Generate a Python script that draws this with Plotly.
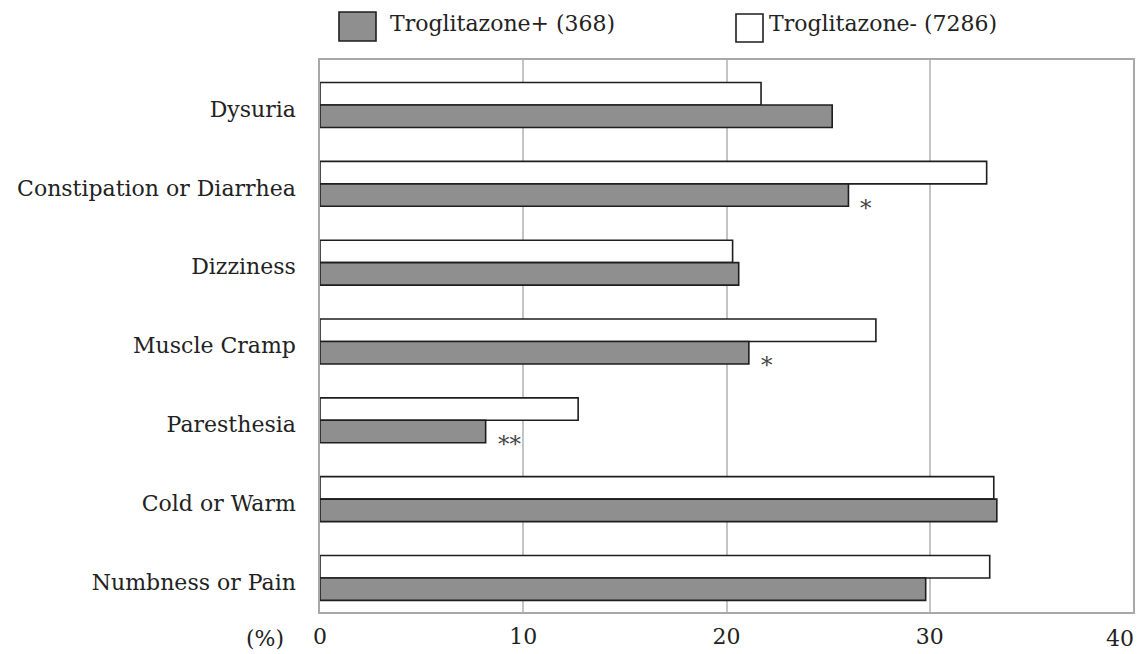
import plotly.graph_objects as go

categories = ["Dysuria", "Constipation or Diarrhea", "Dizziness", "Muscle Cramp",
              "Paresthesia", "Cold or Warm", "Numbness or Pain"]
trog_plus = [25.2, 26.0, 20.6, 21.1, 8.15, 33.3, 29.8]     # Troglitazone+ (368)
trog_minus = [21.7, 32.8, 20.3, 27.35, 12.7, 33.15, 32.95]  # Troglitazone- (7286)
significance = ["", "*", "", "*", "**", "", ""]
x_ticks = [0, 10, 20, 30, 40]
name_plus = "Troglitazone+ (368)"
name_minus = "Troglitazone- (7286)"

FONT = "DejaVu Serif"
W, H = 1138, 654
L, R, T, B = 320, 5, 60, 42

fig = go.Figure()
fig.add_trace(go.Bar(y=categories, x=trog_minus, orientation="h", name=name_minus,
                     marker=dict(color="white", line=dict(color="#1e1e1e", width=1.6))))
fig.add_trace(go.Bar(y=categories, x=trog_plus, orientation="h", name=name_plus,
                     marker=dict(color="#8f8f8f", line=dict(color="#1e1e1e", width=1.6))))

annotations = []
for i, (mark, v) in enumerate(zip(significance, trog_plus)):
    if mark:
        annotations.append(dict(x=v, y=i, xref="x", yref="y", text=mark, showarrow=False,
                                xanchor="left", yanchor="middle", xshift=10, yshift=-24,
                                font=dict(family=FONT, size=23, color="#444444")))

pw = W - L - R
ph = H - T - B
def px(x):
    return (x - L) / pw
def py(y):
    return (H - B - y) / ph

shapes = [
    dict(type="rect", xref="paper", yref="paper", x0=px(339), x1=px(376), y0=py(41), y1=py(12),
         fillcolor="#8f8f8f", line=dict(color="#1e1e1e", width=1.6)),
    dict(type="rect", xref="paper", yref="paper", x0=px(736), x1=px(763), y0=py(42), y1=py(14),
         fillcolor="white", line=dict(color="#1e1e1e", width=1.6)),
]
annotations += [
    dict(x=px(388), y=py(23), xref="paper", yref="paper", text=name_plus, showarrow=False,
         xanchor="left", yanchor="middle", font=dict(family=FONT, size=22, color="#222222")),
    dict(x=px(767), y=py(23), xref="paper", yref="paper", text=name_minus, showarrow=False,
         xanchor="left", yanchor="middle", font=dict(family=FONT, size=22, color="#222222")),
    dict(x=px(286), y=py(638), xref="paper", yref="paper", text="(%)", showarrow=False,
         xanchor="right", yanchor="middle", font=dict(family=FONT, size=22, color="#222222")),
    # last x tick label, kept inside the page's right edge
    dict(x=x_ticks[-1], y=py(638), xref="x", yref="paper", text=str(x_ticks[-1]), showarrow=False,
         xanchor="right", yanchor="middle", xshift=3,
         font=dict(family=FONT, size=22, color="#222222")),
]

fig.update_layout(
    width=W, height=H,
    margin=dict(l=L, r=R, t=T, b=B, autoexpand=False),
    paper_bgcolor="white", plot_bgcolor="white",
    barmode="group", bargap=0.43, bargroupgap=0,
    showlegend=False,
    font=dict(family=FONT, size=22, color="#222222"),
    shapes=shapes, annotations=annotations,
)
fig.update_xaxes(range=[0, 40], tickvals=x_ticks,
                 ticktext=[str(t) for t in x_ticks[:-1]] + [""],
                 showgrid=True, gridcolor="#c4c4c4", gridwidth=1.5, zeroline=False,
                 showline=True, linecolor="#a8a8a8", linewidth=1.5, mirror=True,
                 ticks="outside", ticklen=4, tickcolor="rgba(0,0,0,0)", automargin=False,
                 tickfont=dict(family=FONT, size=22, color="#222222"))
fig.update_yaxes(type="category", categoryorder="array", categoryarray=categories,
                 range=[6.432, -0.571], showgrid=False, zeroline=False,
                 showline=True, linecolor="#a8a8a8", linewidth=1.5, mirror=True,
                 ticks="outside", ticklen=18, tickcolor="rgba(0,0,0,0)", automargin=False,
                 ticklabelshift=-4,
                 tickfont=dict(family=FONT, size=22, color="#222222"))

fig.write_html("out.html", config={"displayModeBar": False},
               post_script="document.body.style.margin='0';")
